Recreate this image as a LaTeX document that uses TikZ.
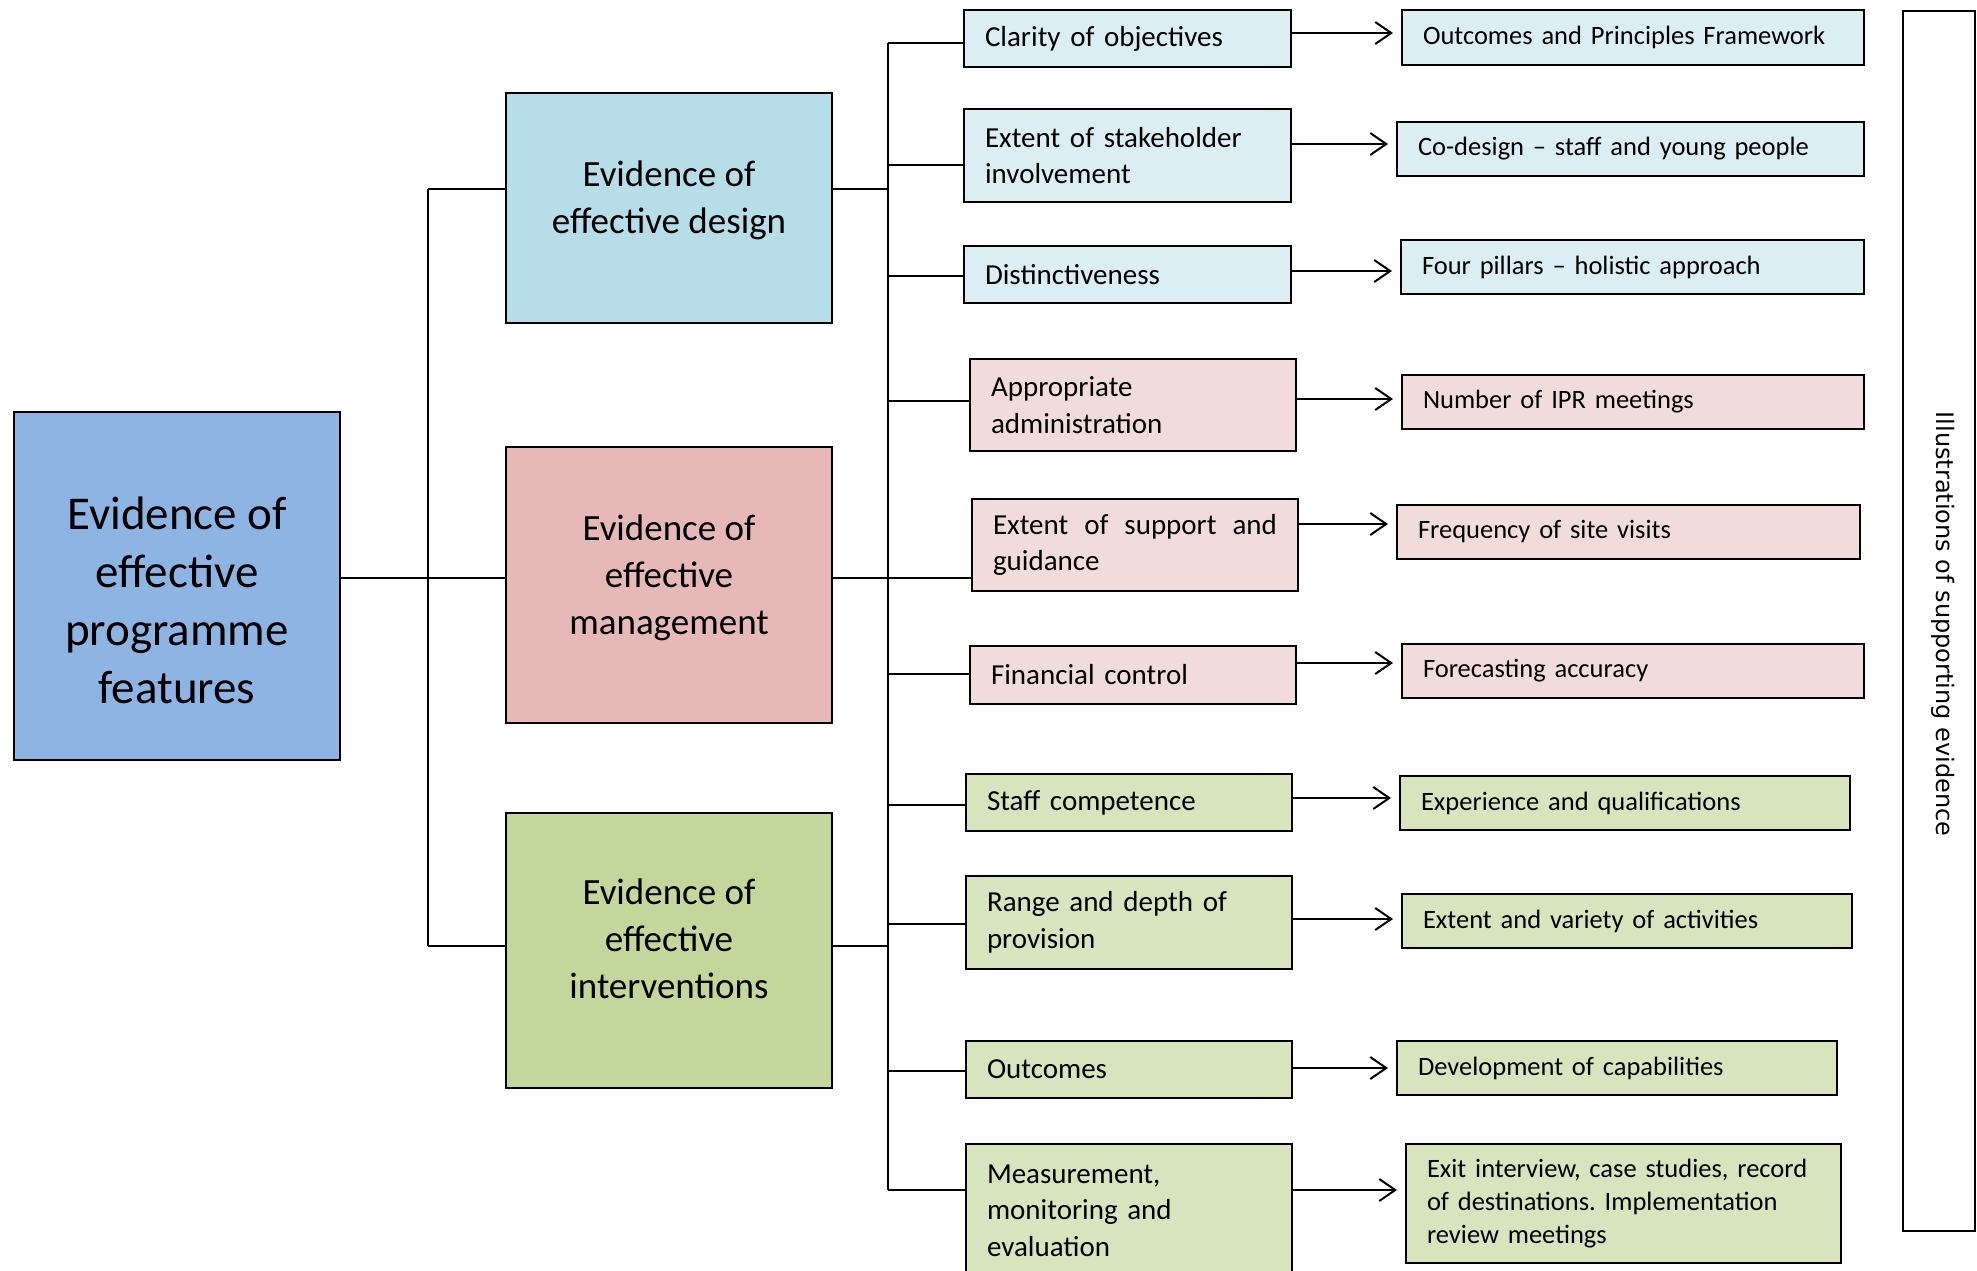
\documentclass[tikz,border=0pt]{standalone}
\usepackage{fontspec}
\setmainfont{Carlito}
\newfontfamily\sidefont{DejaVu Sans}
\usetikzlibrary{arrows.meta}
\frenchspacing

\definecolor{rootblue}{HTML}{8EB4E3}
\definecolor{dsgtwo}{HTML}{B7DDE8}
\definecolor{mgttwo}{HTML}{E6B9B8}
\definecolor{intwo}{HTML}{C3D69B}
\definecolor{dsgthree}{HTML}{DBEEF4}
\definecolor{mgtthree}{HTML}{F2DCDB}
\definecolor{inthree}{HTML}{D7E4BD}

\tikzset{
  frame/.style={draw=black, line width=1.1pt, inner sep=0pt, outer sep=0pt},
  featbox/.style={frame, font=\fontsize{14.5}{18.3}\selectfont, align=left, inner xsep=10.5pt},
  evbox/.style={frame, font=\fontsize{13.25}{16.3}\selectfont, align=left, inner xsep=10.5pt},
  headtext/.style={font=\fontsize{18.5}{23.5}\selectfont, align=center, inner sep=0pt},
  roottext/.style={font=\fontsize{23.5}{28.9}\selectfont, align=center, inner sep=0pt},
  link/.style={line width=1pt},
  arr/.style={line width=1pt, -{Straight Barb[length=8pt,width=11pt,line width=1pt]}, shorten >=4.5pt},
}

% box with text: name, x1, y1, x2, y2, style, text  (pixel coordinates, y downwards)
\newcommand\mkbox[7]{%
  \pgfmathsetlengthmacro\bxw{(#4-#2)*0.5pt}%
  \pgfmathsetlengthmacro\bxh{(#5-#3)*0.5pt}%
  \pgfmathsetlengthmacro\bxt{(#4-#2-42)*0.5pt}%
  \node[#6, minimum width=\bxw, minimum height=\bxh, text width=\bxt]
    (#1) at ({(#2+#4)/2},{(#3+#5)/2}) {#7};}
% empty box: name, x1, y1, x2, y2, fill
\newcommand\mkplain[6]{%
  \pgfmathsetlengthmacro\bxw{(#4-#2)*0.5pt}%
  \pgfmathsetlengthmacro\bxh{(#5-#3)*0.5pt}%
  \node[frame, fill=#6, minimum width=\bxw, minimum height=\bxh]
    (#1) at ({(#2+#4)/2},{(#3+#5)/2}) {};}

\begin{document}
\begin{tikzpicture}[x=0.5pt, y=-0.5pt]
\useasboundingbox (0,0) rectangle (1977,1270);

% main and second-level boxes
\mkplain{root}{14}{412}{340}{760}{rootblue}
\mkplain{dsg}{506}{93}{832}{323}{dsgtwo}
\mkplain{mgmt}{506}{447}{832}{723}{mgttwo}
\mkplain{intv}{506}{813}{832}{1088}{intwo}

% labels, placed by the baseline of their last line
\node[roottext, anchor=base] (rootlbl) at (177,703) {Evidence of\\effective\\programme\\features};
\node[headtext, anchor=base] (dsglbl) at (669,233) {Evidence of\\effective design};
\node[headtext, anchor=base] (mgmtlbl) at (669,634) {Evidence of\\effective\\management};
\node[headtext, anchor=base] (intvlbl) at (669,998) {Evidence of\\effective\\interventions};

% programme features
\mkbox{clar}{964}{10}{1291}{67}{featbox, fill=dsgthree}{Clarity of objectives}
\mkbox{stake}{964}{109}{1291}{202}{featbox, fill=dsgthree}{Extent of stakeholder\\involvement}
\mkbox{dist}{964}{246}{1291}{303}{featbox, fill=dsgthree}{Distinctiveness}
\mkbox{admin}{970}{359}{1296}{451}{featbox, fill=mgtthree}{Appropriate\\administration}
\mkbox{supp}{972}{499}{1298}{591}{featbox, fill=mgtthree}{Extent\hfill of\hfill support\hfill and\\guidance}
\mkbox{fin}{970}{646}{1296}{704}{featbox, fill=mgtthree}{Financial control}
\mkbox{staff}{966}{774}{1292}{831}{featbox, fill=inthree}{Staff competence}
\mkbox{range}{966}{876}{1292}{969}{featbox, fill=inthree}{Range and depth of\\provision}
\mkbox{outc}{966}{1041}{1292}{1098}{featbox, fill=inthree}{Outcomes}
\mkbox{meas}{966}{1144}{1292}{1277}{featbox, fill=inthree}{Measurement,\\monitoring and\\evaluation}

% supporting evidence
\mkbox{opf}{1402}{10}{1864}{65}{evbox, fill=dsgthree}{Outcomes and Principles Framework}
\mkbox{codes}{1397}{122}{1864}{176}{evbox, fill=dsgthree}{Co-design -- staff and young people}
\mkbox{pill}{1401}{240}{1864}{294}{evbox, fill=dsgthree}{Four pillars -- holistic approach}
\mkbox{ipr}{1402}{375}{1864}{429}{evbox, fill=mgtthree}{Number of IPR meetings}
\mkbox{freq}{1397}{505}{1860}{559}{evbox, fill=mgtthree}{Frequency of site visits}
\mkbox{fore}{1402}{644}{1864}{698}{evbox, fill=mgtthree}{Forecasting accuracy}
\mkbox{expq}{1400}{776}{1850}{830}{evbox, fill=inthree}{Experience and qualifications}
\mkbox{vari}{1402}{894}{1852}{948}{evbox, fill=inthree}{Extent and variety of activities}
\mkbox{capa}{1397}{1041}{1837}{1095}{evbox, fill=inthree}{Development of capabilities}
\mkbox{exit}{1406}{1144}{1841}{1263}{evbox, fill=inthree}{Exit interview, case studies, record\\of destinations. Implementation\\review meetings}

% side panel
\mkplain{side}{1903}{11}{1975}{1231}{white}
\node[font=\sidefont\fontsize{12}{14}\selectfont, rotate=-90, inner sep=0pt] (sidelbl) at (1943,624) {Illustrations of supporting evidence};

% tree from the main box
\coordinate (r1) at (428,189);
\coordinate (r2) at (428,578);
\coordinate (r3) at (428,946);
\draw[link] (root.east |- r2) -- (mgmt.west |- r2);
\draw[link] (r1) -- (r3);
\draw[link] (r1) -- (dsg.west |- r1);
\draw[link] (r3) -- (intv.west |- r3);

% tree from the second-level boxes
\coordinate (s1) at (888,189);
\coordinate (s2) at (888,578);
\coordinate (s3) at (888,946);
\coordinate (ttop) at (888,43);
\coordinate (tbot) at (888,1190);
\draw[link] (dsg.east |- s1) -- (s1);
\draw[link] (mgmt.east |- s2) -- (supp.west |- s2);
\draw[link] (intv.east |- s3) -- (s3);
\draw[link] (ttop) -- (tbot);
\foreach \n/\y in {clar/43, stake/165, dist/276, admin/401, fin/674, staff/805, range/924, outc/1071, meas/1190}{
  \coordinate (b\n) at (888,\y);
  \draw[link] (b\n) -- (\n.west |- b\n);
}

% arrows to the evidence
\foreach \a/\b/\y in {clar/opf/33, stake/codes/144, dist/pill/271, admin/ipr/399, supp/freq/524, fin/fore/663, staff/expq/798, range/vari/919, outc/capa/1068, meas/exit/1190}{
  \draw[arr] (\a.east |- 0,\y) -- (\b.west |- 0,\y);
}
\end{tikzpicture}
\end{document}
